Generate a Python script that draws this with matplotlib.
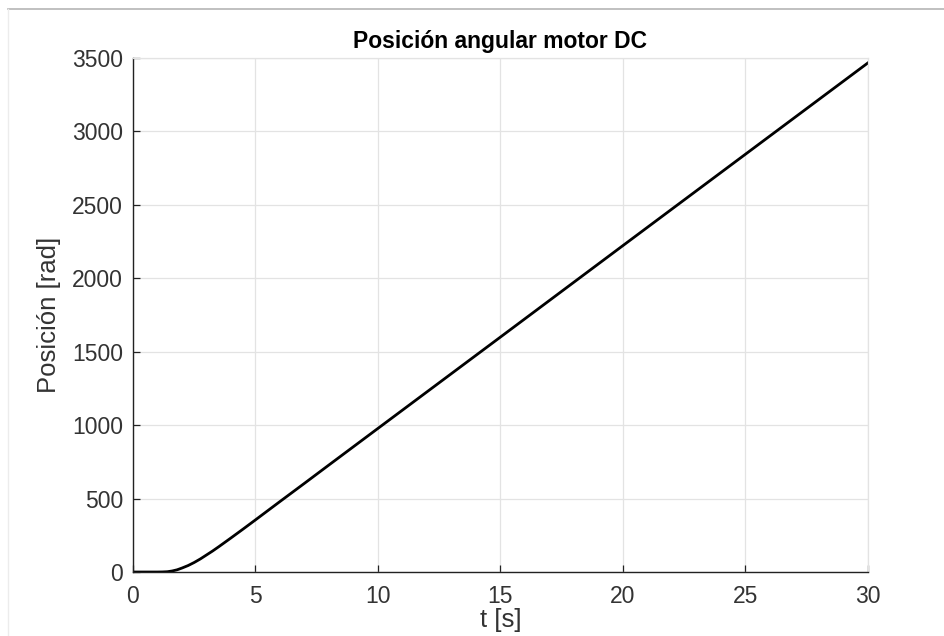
import matplotlib
matplotlib.use("Agg")
import matplotlib.pyplot as plt
from matplotlib.lines import Line2D

plt.rcParams['font.family'] = ['Liberation Sans', 'DejaVu Sans']

# datos: tiempo [s] y posicion [rad]
t = [0, 0.5, 1.0, 1.2, 1.4, 1.6, 1.8, 2.0, 2.25, 2.5, 2.75, 3.0, 3.25, 3.5,
     3.75, 4.0, 4.5, 5.0, 6.0, 7.0, 8.0, 10.0, 15.0, 20.0, 25.0, 30.0]
pos = [0, 0, 0, 0.5, 2, 7, 15, 27, 44, 65, 89, 116, 143, 172,
       202, 232, 293, 355, 480, 604, 729, 978, 1600, 2223, 2845, 3467]

xticks = [0, 5, 10, 15, 20, 25, 30]
yticks = [0, 500, 1000, 1500, 2000, 2500, 3000, 3500]

fig = plt.figure(figsize=(9.45, 6.36), dpi=100)
ax = fig.add_axes([0.1407, 0.1006, 0.7778, 0.8082])

ax.plot(t, pos, color='black', linewidth=2.0)

ax.set_xlim(0, 30)
ax.set_ylim(0, 3500)
ax.set_xticks(xticks)
ax.set_yticks(yticks)
ax.grid(True, color='#e3e3e3', linewidth=0.9)
ax.set_axisbelow(True)

# estilo tipo MATLAB
for s in ['top', 'right']:
    ax.spines[s].set_color('#e3e3e3')
    ax.spines[s].set_linewidth(0.9)
for s in ['left', 'bottom']:
    ax.spines[s].set_color('#222222')
    ax.spines[s].set_linewidth(1.0)
ax.tick_params(direction='in', length=5, width=0.9, colors='#222222',
               labelsize=16.5, labelcolor='#333333')
ax.tick_params(axis='x', pad=9)
ax.tick_params(axis='y', pad=7)

ax.set_title("Posición angular motor DC", fontsize=16.5, fontweight='bold', pad=7)
ax.set_xlabel("t [s]", fontsize=18.5, color='#333333', labelpad=0)
ax.set_ylabel("Posición [rad]", fontsize=18.5, color='#333333', labelpad=8)

# marco de la captura
fig.add_artist(Line2D([8 / 945, 1], [1 - 9 / 636, 1 - 9 / 636], color='#b5b5b5', linewidth=1.2))
fig.add_artist(Line2D([8 / 945, 8 / 945], [0, 1 - 9 / 636], color='#ececec', linewidth=1.0))

fig.savefig("out.png", dpi=100)
